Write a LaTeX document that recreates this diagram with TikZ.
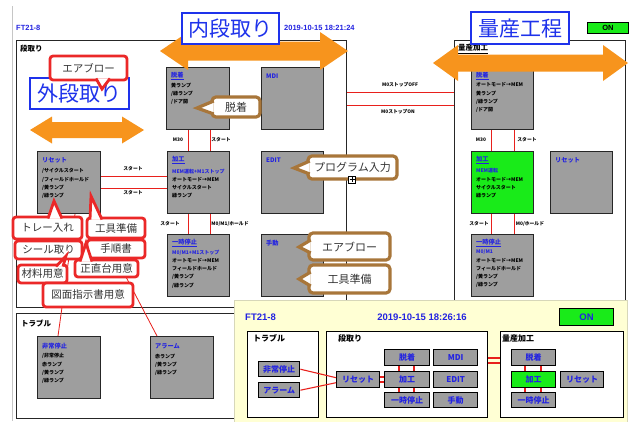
\documentclass[tikz,border=0pt]{standalone}
\usepackage{fontspec}
\setmainfont{Noto Sans CJK JP}
\newfontfamily\lat{Liberation Sans}
\usetikzlibrary{calc}
\definecolor{ublue}{RGB}{35,35,225}
\definecolor{lblue}{RGB}{30,50,235}
\definecolor{borange}{RGB}{247,148,29}
\definecolor{cred}{RGB}{232,32,28}
\definecolor{lred}{RGB}{235,40,40}
\definecolor{cbrown}{RGB}{168,118,58}
\definecolor{gboxc}{RGB}{158,158,158}
\definecolor{lgreen}{RGB}{25,235,25}
\definecolor{lyellow}{RGB}{255,255,212}
\definecolor{panelb}{RGB}{215,215,185}
\newcommand{\GB}[6][gboxc]{\node[gbox, fill=#1, minimum width=#5pt, minimum height=#6pt] (#2) at (#3,#4) {};}
\newcommand{\MB}[7][gboxc]{\node[mbox, fill=#1, minimum width=#5pt, minimum height=#6pt] (#2) at (#3,#4) {#7};}
\newcommand{\BT}[4]{\node[btitle] (#1) at (#2,#3) {#4};}
\newcommand{\BB}[4]{\node[bbody] (#1) at (#2,#3) {#4};}
\newcommand{\dblarrow}[6]{%
 \fill[borange] (#1,#3) -- (#1+#4,#3-#5) -- (#1+#4,#3-#6) -- (#2-#4,#3-#6) -- (#2-#4,#3-#5) -- (#2,#3) -- (#2-#4,#3+#5) -- (#2-#4,#3+#6) -- (#1+#4,#3+#6) -- (#1+#4,#3+#5) -- cycle;}
\begin{document}
\begin{tikzpicture}[x=1pt,y=-1pt,
 gbox/.style={draw=black!85, line width=1.1pt, inner sep=0pt, anchor=north west},
 mbox/.style={draw=black, line width=1.4pt, inner sep=0pt, anchor=north west, font=\fontsize{8}{9}\selectfont\bfseries, text=ublue},
 frame/.style={draw=black!85, line width=0.9pt, fill=white, inner sep=0pt, anchor=north west},
 flabel/.style={anchor=west, inner sep=0pt, font=\fontsize{7.5}{8}\selectfont\bfseries},
 btitle/.style={anchor=west, inner sep=0pt, font=\fontsize{6.2}{7}\selectfont\bfseries, text=ublue},
 bbody/.style={anchor=north west, inner sep=0pt, align=left, font=\fontsize{5}{8.3}\selectfont\bfseries, text=black},
 lbl/.style={inner sep=0pt, font=\fontsize{4.8}{5}\selectfont\bfseries},
 redln/.style={draw=cred, line width=0.8pt},
 mredln/.style={draw=cred, line width=1.1pt},
 cored/.style={draw=lred, line width=2.8pt, fill=white, rounded corners=3pt, inner sep=0pt, font=\fontsize{10.5}{11}\selectfont, text=black!80},
 cobrown/.style={draw=cbrown, line width=3.2pt, fill=white, rounded corners=4pt, inner sep=0pt, font=\fontsize{11}{12}\selectfont, text=black!80},
 ptr/.style={fill=white, draw=lred, line width=2.8pt},
 ptrb/.style={fill=white, draw=cbrown, line width=3.2pt},
 biglbl/.style={draw=lblue, line width=2.4pt, fill=white, inner sep=0pt, anchor=north west, font=\fontsize{21}{22}\selectfont, text=lblue},
 lat/.style={inner sep=0pt, font=\lat\fontsize{7.5}{8}\selectfont\bfseries}]
\useasboundingbox (0,0) rectangle (637,421);
\fill[white] (0,0) rectangle (637,421);
\draw[gray!45, line width=0.6pt] (12,6) -- (12,421);

% header
\node[lat, anchor=west, text=ublue] (ft) at (16,28) {FT21-8};
\node[lat, anchor=west, text=ublue] (date) at (284,28) {2019-10-15 18:21:24};
\node[lat, draw=black, line width=0.8pt, fill=lgreen, minimum width=41pt, minimum height=11pt, anchor=north west] (on) at (587,22) {ON};

% frames
\node[frame, minimum width=330pt, minimum height=267pt] (dand) at (16,40) {};
\node[frame, minimum width=171pt, minimum height=266pt] (ryo) at (454,40) {};
\node[frame, minimum width=260pt, minimum height=105pt] (trb) at (16,313) {};
\node[flabel] (dandL) at (20,49) {段取り};
\node[flabel] (ryoL) at (458,49) {\underline{量産加工}};
\node[flabel] (trbL) at (21,323) {トラブル};

% frame connectors
\draw[redln] (dand.east |- 0,92) -- (ryo.west |- 0,92);
\draw[redln] (dand.east |- 0,105) -- (ryo.west |- 0,105);
\node[lbl] (m0off) at (400,85) {M0ストップOFF};
\node[lbl] (m0on) at (398,112) {M0ストップON};

% boxes 段取り
\GB{dt}{166}{67}{63}{62}
\GB{mdi}{261}{67}{62}{62}
\GB{kk}{167}{151}{62}{62}
\GB{edit}{261}{151}{62}{62}
\GB{ichiji}{167}{234}{62}{62}
\GB{shudo}{261}{234}{62}{62}
\GB{reset}{37}{151}{63}{62}
% boxes 量産
\GB{rdt}{471}{67}{62}{62}
\GB[lgreen]{rkk}{471}{151}{62}{62}
\GB{rreset}{550}{151}{62}{62}
\GB{richiji}{471}{234}{62}{62}
% boxes トラブル
\GB{hijo}{37}{336}{63}{62}
\GB{alarm}{150}{336}{63}{62}

% box texts
\BT{dtT}{171}{76}{\underline{脱着}}
\BB{dtB}{171}{82.5}{黄ランプ\\/緑ランプ\\/ドア開}
\BT{mdiT}{266}{76}{MDI}
\BT{editT}{266}{160}{EDIT}
\BT{shudoT}{266}{243}{手動}
\BT{kkT}{172}{160}{\underline{加工}}
\BB{kkB}{172}{168.5}{{\color{ublue}MEM運転+M1ストップ}\\オートモード→MEM\\サイクルスタート\\緑ランプ}
\BT{ichijiT}{172}{243}{\underline{一時停止}}
\BB{ichijiB}{172}{249.5}{{\color{ublue}M0/M1+M1ストップ}\\オートモード→MEM\\フィールドホールド\\/黄ランプ\\/緑ランプ}
\BT{resetT}{42}{160}{リセット}
\BB{resetB}{42}{168.5}{/サイクルスタート\\/フィールドホールド\\/黄ランプ\\/緑ランプ}
\BT{rdtT}{476}{76}{\underline{脱着}}
\BB{rdtB}{476}{82.5}{オートモード→MEM\\黄ランプ\\/緑ランプ\\/ドア開}
\BT{rkkT}{476}{160}{\underline{加工}}
\BB{rkkB}{476}{168.5}{{\color{ublue}MEM運転}\\オートモード→MEM\\サイクルスタート\\緑ランプ}
\BT{rresetT}{555}{160}{リセット}
\BT{richijiT}{476}{243}{\underline{一時停止}}
\BB{richijiB}{476}{249.5}{{\color{ublue}M0/M1}\\オートモード→MEM\\フィールドホールド\\/黄ランプ\\/緑ランプ}
\BT{hijoT}{42}{346}{非常停止}
\BB{hijoB}{42}{353.5}{/非常停止\\赤ランプ\\/黄ランプ\\/緑ランプ}
\BT{alarmT}{155}{346}{アラーム}
\BB{alarmB}{155}{353.5}{赤ランプ\\/黄ランプ\\/緑ランプ}

% connectors 段取り
\draw[redln] (dt.south -| 188,0) -- (kk.north -| 188,0);
\draw[redln] (dt.south -| 210,0) -- (kk.north -| 210,0);
\draw[redln] (kk.south -| 188,0) -- (ichiji.north -| 188,0);
\draw[redln] (kk.south -| 210,0) -- (ichiji.north -| 210,0);
\draw[redln] (reset.east |- 0,176) -- (kk.west |- 0,176);
\draw[redln] (reset.east |- 0,188) -- (kk.west |- 0,188);
\node[lbl] (l1) at (178,140) {M30};
\node[lbl] (l2) at (221,140) {スタート};
\node[lbl] (l3) at (133,169) {スタート};
\node[lbl] (l4) at (133,193) {スタート};
\node[lbl] (l5) at (170,224) {スタート};
\node[lbl] (l6) at (230,224) {M0/M1/ホールド};
% connectors 量産
\draw[redln] (rdt.south -| 491,0) -- (rkk.north -| 491,0);
\draw[redln] (rdt.south -| 514,0) -- (rkk.north -| 514,0);
\draw[redln] (rkk.south -| 491,0) -- (richiji.north -| 491,0);
\draw[redln] (rkk.south -| 514,0) -- (richiji.north -| 514,0);
\node[lbl] (l7) at (481,140) {M30};
\node[lbl] (l8) at (527,140) {スタート};
\node[lbl] (l9) at (479,224) {スタート};
\node[lbl] (l10) at (530,224) {M0/ホールド};
% trouble connectors
\draw[redln] (reset.south -| 75,0) -- (hijo.north -| 58,0);
\draw[redln] (reset.south -| 93,0) -- (alarm.north -| 157,0);

% orange arrows
\dblarrow{160}{348}{51}{28}{19}{9.5}
\dblarrow{433}{628}{63}{25}{18}{8.5}
\dblarrow{30}{144}{130}{22}{13.5}{8}

% big labels
\node[biglbl, minimum width=97pt, minimum height=31pt] (uchi) at (181,12) {内段取り};
\node[biglbl, minimum width=98pt, minimum height=32pt] (ryosan) at (470,11) {量産工程};
\node[biglbl, minimum width=99pt, minimum height=31pt] (soto) at (29,77) {外段取り};

% red callouts
\node[cored, minimum width=77pt, minimum height=24pt] (cA) at (88.5,68) {エアブロー};
\path[ptr] (96,78.5) -- (102,89) -- (110,78.5);
\node[cored, minimum width=69pt, minimum height=22pt] (cB) at (47.5,228) {トレー入れ};
\path[ptr] (48,218.5) -- (54,201) -- (62,218.5);
\node[cored, minimum width=58pt, minimum height=20pt] (cC) at (116,228) {工具準備};
\path[ptr] (90,219.5) -- (91,196) -- (102,219.5);
\node[cored, minimum width=58pt, minimum height=18pt] (cD) at (116,249) {手順書};
\node[cored, minimum width=67pt, minimum height=18pt] (cE) at (48.5,250) {シール取り};
\node[cored, minimum width=63pt, minimum height=17pt] (cG) at (106.5,268.5) {正直台用意};
\path[ptr] (80,261.5) -- (86,243) -- (92,261.5);
\node[cored, minimum width=49pt, minimum height=18pt] (cF) at (42.5,274) {材料用意};
\path[ptr] (56,266.5) -- (66,256) -- (63,266.5);
\node[cored, minimum width=90pt, minimum height=24pt] (cH) at (88,295) {図面指示書用意};

% brown callouts
\node[cobrown, minimum width=48pt, minimum height=20pt] (cI) at (236,107) {脱着};
\path[ptrb] (213.7,101) -- (197,108) -- (213.7,114);
\node[cobrown, minimum width=89pt, minimum height=23pt] (cJ) at (352.5,167.5) {プログラム入力};
\path[ptrb] (309.7,161) -- (294,168) -- (309.7,174);
\node[cobrown, minimum width=81pt, minimum height=27pt] (cK) at (349.5,246.5) {エアブロー};
\path[ptrb] (310.7,240) -- (299,247) -- (310.7,253);
\node[cobrown, minimum width=81pt, minimum height=28pt] (cL) at (349.5,279) {工具準備};
\path[ptrb] (310.7,272) -- (299,279) -- (310.7,286);
\node[draw=black, line width=0.6pt, fill=white, minimum size=7pt, inner sep=0pt] (plus) at (352,179.5) {};
\draw[line width=0.6pt, shorten <=1.3pt, shorten >=1.3pt] (plus.north) -- (plus.south);
\draw[line width=0.6pt, shorten <=1.3pt, shorten >=1.3pt] (plus.west) -- (plus.east);

% mini panel
\node[draw=panelb, line width=0.8pt, fill=lyellow, inner sep=0pt, anchor=north west, minimum width=393pt, minimum height=125pt] (panel) at (234,300) {};
\node[anchor=west, inner sep=0pt, font=\lat\fontsize{9.5}{10}\selectfont\bfseries, text=ublue] (mft) at (245,317) {FT21-8};
\node[inner sep=0pt, font=\lat\fontsize{9.5}{10}\selectfont\bfseries, text=ublue] (mdate) at (422,317) {2019-10-15 18:26:16};
\node[draw=black, line width=1pt, fill=lgreen, inner sep=0pt, anchor=north west, minimum width=54pt, minimum height=17pt, font=\lat\fontsize{9.5}{10}\selectfont\bfseries, text=ublue] (mon) at (559,308) {ON};
\node[frame, draw=black, line width=1.2pt, minimum width=71pt, minimum height=86pt] (mtrb) at (247,331) {};
\node[frame, draw=black, line width=1.2pt, minimum width=161pt, minimum height=86pt] (mdand) at (326,331) {};
\node[frame, draw=black, line width=1.2pt, minimum width=123pt, minimum height=86pt] (mryo) at (500,331) {};
\node[flabel, font=\fontsize{8}{9}\selectfont\bfseries] (mtrbL) at (253,338) {トラブル};
\node[flabel, font=\fontsize{8}{9}\selectfont\bfseries] (mdandL) at (338,338) {段取り};
\node[flabel, font=\fontsize{8}{9}\selectfont\bfseries] (mryoL) at (502,338) {量産加工};
\MB{mhijo}{258}{361}{41}{15}{非常停止}
\MB{malarm}{258}{382}{41}{15}{アラーム}
\MB{mreset}{336}{371}{43}{16}{リセット}
\MB{mdt}{384}{349}{45}{16}{脱着}
\MB{mmdi}{433}{349}{44}{16}{MDI}
\MB{mkk}{384}{371}{45}{16}{加工}
\MB{medit}{433}{371}{44}{16}{EDIT}
\MB{michiji}{384}{392}{45}{15}{一時停止}
\MB{mshudo}{433}{392}{44}{15}{手動}
\MB{mrdt}{511}{349}{44}{16}{脱着}
\MB[lgreen]{mrkk}{511}{371}{44}{16}{加工}
\MB{mrreset}{560}{371}{43}{16}{リセット}
\MB{mrichiji}{511}{392}{44}{15}{一時停止}
\draw[mredln] (mhijo.east) -- ($(mreset.west)+(0,-2)$);
\draw[mredln] (malarm.east) -- ($(mreset.west)+(0,3)$);
\draw[mredln] (mreset.east |- 0,377) -- (mkk.west |- 0,377);
\draw[mredln] (mreset.east |- 0,382) -- (mkk.west |- 0,382);
\draw[mredln] (mdt.south -| 399,0) -- (mkk.north -| 399,0);
\draw[mredln] (mdt.south -| 414,0) -- (mkk.north -| 414,0);
\draw[mredln] (mkk.south -| 399,0) -- (michiji.north -| 399,0);
\draw[mredln] (mkk.south -| 414,0) -- (michiji.north -| 414,0);
\draw[mredln] (mdand.east |- 0,358) -- (mryo.west |- 0,358);
\draw[mredln] (mdand.east |- 0,363) -- (mryo.west |- 0,363);
\draw[mredln] (mrdt.south -| 525,0) -- (mrkk.north -| 525,0);
\draw[mredln] (mrdt.south -| 541,0) -- (mrkk.north -| 541,0);
\draw[mredln] (mrkk.south -| 525,0) -- (mrichiji.north -| 525,0);
\draw[mredln] (mrkk.south -| 541,0) -- (mrichiji.north -| 541,0);
\end{tikzpicture}
\end{document}
